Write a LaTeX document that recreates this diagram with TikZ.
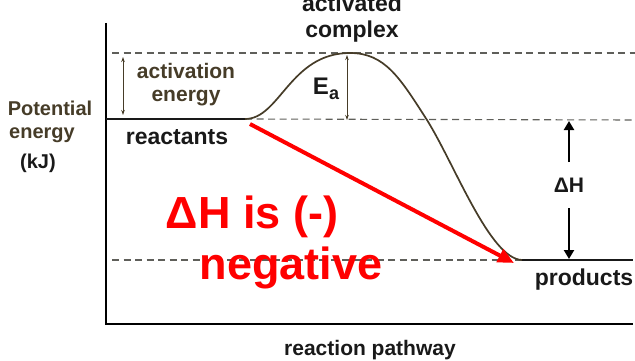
\documentclass[tikz,border=0pt]{standalone}
\usepackage{fontspec}
\setmainfont{Liberation Sans}
\usetikzlibrary{arrows.meta}
\definecolor{inkbrown}{RGB}{70,60,40}
\definecolor{inkdark}{RGB}{25,25,25}
\definecolor{dashgray}{RGB}{95,95,90}
\definecolor{hotred}{RGB}{255,0,0}
\tikzset{
  axisline/.style={line width=2.6pt, black},
  guide/.style={line width=1.1pt, dashgray, dash pattern=on 7pt off 4.5pt},
  levelline/.style={line width=2.4pt, inkdark},
  curveline/.style={line width=1.7pt, inkbrown},
  thinarrow/.style={line width=0.9pt, inkbrown, {Stealth[length=5pt,width=3.5pt]}-{Stealth[length=5pt,width=3.5pt]}},
  bigarrow/.style={line width=2.6pt, black, -{Triangle[length=9pt,width=10pt]}},
  redarrow/.style={line width=4pt, hotred, -{Triangle[length=16pt,width=14pt]}},
  lbl/.style={inkdark, font=\fontsize{20}{24}\selectfont\bfseries, inner sep=0pt, anchor=base},
  lblbig/.style={inkdark, font=\fontsize{23}{27}\selectfont\bfseries, inner sep=0pt, anchor=base},
  lblbrown/.style={inkbrown, font=\fontsize{20}{24}\selectfont\bfseries, inner sep=0pt, anchor=base},
  redtext/.style={hotred, font=\fontsize{45}{50}\selectfont\bfseries, inner sep=0pt, anchor=base},
}
\begin{document}
\begin{tikzpicture}[x=1pt,y=-1pt]
\useasboundingbox (0,0) rectangle (635,361);
% coordinates
\coordinate (ytop) at (106,23);
\coordinate (origin) at (106,324);
\coordinate (xend) at (633,324);
\coordinate (reacL) at (106,119);
\coordinate (reacR) at (245,119);
\coordinate (peak) at (350,53);
\coordinate (mid) at (427,120);
\coordinate (prodL) at (522,260);
\coordinate (prodR) at (633,260);
\coordinate (topdL) at (112,53);
\coordinate (topdR) at (635,53);
\coordinate (middR) at (635,120);
\coordinate (botdL) at (112,260);
\coordinate (aeTop) at (123,57);
\coordinate (aeBot) at (123,115);
\coordinate (eaTop) at (347,55);
\coordinate (eaBot) at (347,120);
\coordinate (dhUpS) at (569,162);
\coordinate (dhUpE) at (569,121);
\coordinate (dhDnS) at (569,208);
\coordinate (dhDnE) at (569,259);
\coordinate (redS) at (250,124);
\coordinate (redE) at (514,263);
% dashed guides
\draw[guide] (topdL) -- (topdR);
\draw[guide] (reacR) -- (middR);
\draw[guide] (botdL) -- (prodL);
% axes
\draw[axisline] (ytop) -- (origin) -- (xend);
% levels
\draw[levelline] (reacL) -- (reacR);
\draw[levelline] (prodL) -- (prodR);
% curve
\draw[curveline] (reacR) .. controls (280,119) and (290,53) .. (peak)
  .. controls (385,53) and (400,78) .. (mid)
  .. controls (455,165) and (490,259) .. (prodL);
% arrows
\draw[thinarrow] (aeTop) -- (aeBot);
\draw[thinarrow] (eaTop) -- (eaBot);
\draw[bigarrow] (dhUpS) -- (dhUpE);
\draw[bigarrow] (dhDnS) -- (dhDnE);
\draw[redarrow] (redS) -- (redE);
% labels
\node[lblbrown] (pot1) at (50,115) {Potential};
\node[lblbrown] (pot2) at (42,138) {energy};
\node[lbl] (kj) at (38,168) {(kJ)};
\node[lblbrown, font=\fontsize{21}{24}\selectfont\bfseries] (act1) at (186,78) {activation};
\node[lblbrown, font=\fontsize{21}{24}\selectfont\bfseries] (act2) at (186,102) {energy};
\node[lblbig] (reac) at (177,144) {reactants};
\node[lblbig] (prod) at (584,285) {products};
\node[lblbig] (acx1) at (352,12) {activated};
\node[lblbig] (acx2) at (352,38) {complex};
\node[lbl, font=\fontsize{21}{24}\selectfont\bfseries] (path) at (370,355) {reaction pathway};
\node[lbl, font=\fontsize{21}{24}\selectfont\bfseries] (dh) at (569,192) {ΔH};
\node[lbl, font=\fontsize{24}{28}\selectfont\bfseries] (ea) at (326,95) {E\raisebox{-5pt}{\fontsize{18}{20}\selectfont\bfseries a}};
\node[redtext] (red1) at (252,228) {ΔH is (-)};
\node[redtext] (red2) at (291,279) {negative};
\end{tikzpicture}
\end{document}
